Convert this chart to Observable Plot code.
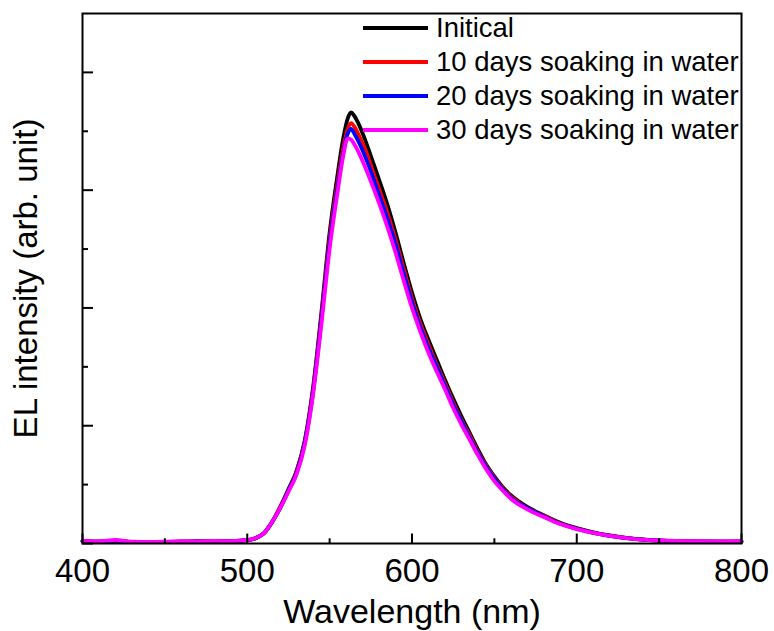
<!DOCTYPE html>
<html>
<head>
<meta charset="utf-8">
<script src="https://cdn.jsdelivr.net/npm/d3@7"></script>
<script src="https://cdn.jsdelivr.net/npm/@observablehq/plot@0.6"></script>
<style>
  html, body { margin: 0; padding: 0; background: #fff; }
  #chart { position: relative; width: 774px; height: 631px; font-family: "Liberation Sans", Arial, sans-serif; }
  #legend { position: absolute; left: 363px; top: 11px; }
  .row { display: flex; align-items: center; height: 34px; }
  .swatch { width: 65px; height: 4px; margin-right: 8px; }
  .row span { font-size: 27.5px; color: #000; line-height: 1; white-space: nowrap; }
</style>
</head>
<body>
<div id="chart"></div>
<script>
// EL spectra of the device before and after soaking in water
const series = ["Initical", "10 days soaking in water", "20 days soaking in water", "30 days soaking in water"];
const colors = ["#000000", "#ff0000", "#0000ff", "#ff00ff"];

const wavelength = [400, 410, 420, 430, 440, 450, 460, 470, 480, 490, 500, 505, 510, 515, 520, 525, 530, 535, 540, 545,
  550, 555, 558, 561, 563, 565, 568, 572, 576, 580, 585, 590, 595, 600, 605, 610, 615, 620, 625, 630,
  635, 640, 645, 650, 655, 660, 670, 680, 690, 700, 710, 720, 730, 740, 750, 760, 770, 780, 790, 800];

const initial = [0.020, 0.015, 0.025, 0.012, 0.012, 0.012, 0.015, 0.018, 0.018, 0.020, 0.028, 0.045, 0.085, 0.18, 0.31, 0.46, 0.62, 0.88, 1.33, 1.96,
  2.64, 3.15, 3.42, 3.61, 3.66, 3.63, 3.55, 3.41, 3.25, 3.09, 2.88, 2.64, 2.38, 2.13, 1.91, 1.73, 1.56, 1.39, 1.23, 1.08,
  0.94, 0.80, 0.67, 0.57, 0.48, 0.41, 0.31, 0.24, 0.175, 0.13, 0.095, 0.068, 0.048, 0.034, 0.026, 0.020, 0.018, 0.016, 0.015, 0.015];

const days10 = [0.018, 0.016, 0.022, 0.013, 0.012, 0.013, 0.016, 0.017, 0.019, 0.020, 0.028, 0.045, 0.085, 0.18, 0.31, 0.45, 0.61, 0.87, 1.31, 1.93,
  2.59, 3.08, 3.34, 3.52, 3.57, 3.54, 3.46, 3.33, 3.17, 3.01, 2.81, 2.58, 2.33, 2.08, 1.87, 1.69, 1.52, 1.36, 1.20, 1.05,
  0.92, 0.78, 0.66, 0.56, 0.47, 0.40, 0.30, 0.235, 0.17, 0.127, 0.093, 0.066, 0.047, 0.033, 0.025, 0.020, 0.018, 0.016, 0.015, 0.016];

const days20 = [0.019, 0.015, 0.024, 0.013, 0.013, 0.012, 0.016, 0.018, 0.018, 0.021, 0.029, 0.045, 0.085, 0.18, 0.30, 0.45, 0.60, 0.86, 1.29, 1.90,
  2.55, 3.04, 3.30, 3.48, 3.52, 3.48, 3.40, 3.27, 3.12, 2.96, 2.76, 2.54, 2.29, 2.05, 1.84, 1.66, 1.50, 1.34, 1.18, 1.04,
  0.90, 0.77, 0.65, 0.55, 0.46, 0.39, 0.30, 0.23, 0.168, 0.125, 0.091, 0.065, 0.046, 0.033, 0.025, 0.021, 0.018, 0.017, 0.016, 0.017];

const days30 = [0.022, 0.018, 0.030, 0.015, 0.014, 0.015, 0.020, 0.016, 0.022, 0.020, 0.030, 0.045, 0.085, 0.18, 0.30, 0.44, 0.59, 0.84, 1.27, 1.86,
  2.50, 3.00, 3.27, 3.44, 3.43, 3.39, 3.31, 3.18, 3.04, 2.89, 2.69, 2.47, 2.23, 2.00, 1.80, 1.62, 1.46, 1.31, 1.15, 1.01,
  0.88, 0.75, 0.63, 0.53, 0.45, 0.38, 0.29, 0.225, 0.165, 0.122, 0.090, 0.064, 0.046, 0.033, 0.026, 0.022, 0.020, 0.018, 0.018, 0.020];

const xMajor = [400, 500, 600, 700, 800];
const xMinor = [450, 550, 650, 750];
const yMajor = [0, 1, 2, 3, 4];
const yMinor = [0.5, 1.5, 2.5, 3.5];

const spectra = [initial, days10, days20, days30];
const table = series.flatMap((name, i) =>
  wavelength.map((w, j) => ({series: name, wavelength: w, value: spectra[i][j]})));

const font = '"Liberation Sans", Arial, sans-serif';

const plot = Plot.plot({
  width: 774,
  height: 631,
  marginTop: 13,
  marginRight: 33,
  marginBottom: 88,
  marginLeft: 82,
  style: {fontFamily: font, background: "#fff", color: "#000"},
  x: {domain: [400, 800]},
  y: {domain: [0, 4.5]},
  color: {domain: series, range: colors},
  marks: [
    Plot.line(table, {x: "wavelength", y: "value", z: "series", stroke: "series", strokeWidth: 3.8,
      strokeLinejoin: "round", curve: "monotone-x"}),
    // inward tick marks along the left edge
    Plot.axisY(yMajor, {tickSize: -11, strokeWidth: 2, tickFormat: () => "", label: null}),
    Plot.axisY(yMinor, {tickSize: -6, strokeWidth: 2, tickFormat: () => "", label: null}),
    // tick labels
    Plot.axisX(xMajor, {tickSize: 0, tickPadding: 15, fontSize: 33, tickFormat: d => String(d), label: null}),
    Plot.frame({stroke: "#000", strokeWidth: 2}),
    // inward tick marks along the bottom edge
    Plot.ruleX(xMajor, {x: d => d, y1: 0, y2: 0.08, stroke: "#000", strokeWidth: 2}),
    Plot.ruleX(xMinor, {x: d => d, y1: 0, y2: 0.04, stroke: "#000", strokeWidth: 2}),
    // axis titles
    Plot.text(["Wavelength (nm)"], {frameAnchor: "bottom", dy: 79, lineAnchor: "bottom", fontSize: 34, fill: "#000"}),
    Plot.text(["EL intensity (arb. unit)"], {frameAnchor: "left", dx: -46, rotate: -90, textAnchor: "middle",
      lineAnchor: "bottom", fontSize: 33, fill: "#000"})
  ]
});

const chart = document.getElementById("chart");
chart.appendChild(plot);

// legend drawn over the upper right of the frame
const legend = document.createElement("div");
legend.id = "legend";
series.forEach((name, i) => {
  const row = document.createElement("div");
  row.className = "row";
  const sw = document.createElement("div");
  sw.className = "swatch";
  sw.style.background = colors[i];
  const label = document.createElement("span");
  label.textContent = name;
  row.appendChild(sw);
  row.appendChild(label);
  legend.appendChild(row);
});
chart.appendChild(legend);
</script>
</body>
</html>
